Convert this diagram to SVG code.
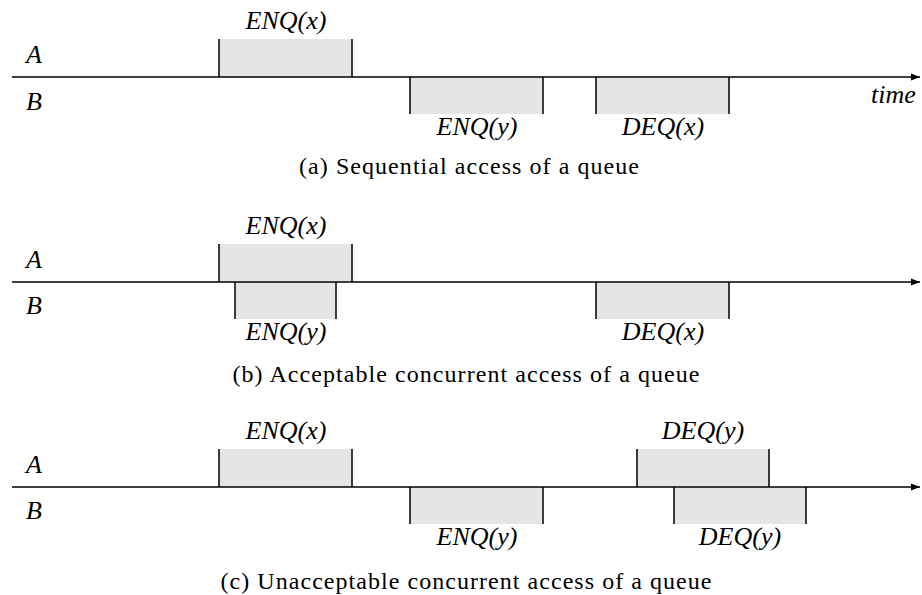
<svg xmlns="http://www.w3.org/2000/svg" width="922" height="595" viewBox="0 0 922 595">
<style>
.box{fill:#e5e5e5;stroke:none}
.side{stroke:#000;stroke-width:1.5;fill:none}
.axis{stroke:#000;stroke-width:1.5;fill:none}
text{font-family:"Times New Roman","Liberation Serif",Tinos,"Noto Serif","DejaVu Serif",FreeSerif,Times,serif;fill:#000}
.lbl{font-style:italic;font-size:26px}
.cap{font-size:24px;text-anchor:middle}
.mid{text-anchor:middle}
</style>
<defs>
<marker id="arr" markerWidth="10" markerHeight="8" refX="9" refY="4" orient="auto" markerUnits="userSpaceOnUse">
<path d="M0,0.5 L9,4 L0,7.5 Z" fill="#000"/>
</marker>
</defs>
<rect width="922" height="595" fill="#fff"/>
<!-- Panel (a) -->
<g id="a-enqx">
<rect class="box" x="219" y="39" width="133" height="38"/>
<path class="side" d="M219,39V77M352,39V77"/>
<text class="lbl mid" x="286" y="29">ENQ(x)</text>
</g>
<g id="a-enqy">
<rect class="box" x="410" y="77" width="133" height="37"/>
<path class="side" d="M410,77V114M543,77V114"/>
<text class="lbl mid" x="477" y="135">ENQ(y)</text>
</g>
<g id="a-deqx">
<rect class="box" x="596" y="77" width="133" height="37"/>
<path class="side" d="M596,77V114M729,77V114"/>
<text class="lbl mid" x="663" y="135">DEQ(x)</text>
</g>
<g id="a-labels">
<text class="lbl" x="26" y="63">A</text>
<text class="lbl" x="26" y="110">B</text>
<text class="lbl" x="871" y="103">time</text>
<text class="cap" x="469" y="174" textLength="340" lengthAdjust="spacing">(a) Sequential access of a queue</text>
</g>

<!-- Panel (b) -->
<g id="b-enqx">
<rect class="box" x="219" y="244" width="133" height="38"/>
<path class="side" d="M219,244V282M352,244V282"/>
<text class="lbl mid" x="286" y="234">ENQ(x)</text>
</g>
<g id="b-enqy">
<rect class="box" x="235" y="282" width="101" height="37"/>
<path class="side" d="M235,282V319M336,282V319"/>
<text class="lbl mid" x="286" y="340">ENQ(y)</text>
</g>
<g id="b-deqx">
<rect class="box" x="596" y="282" width="133" height="37"/>
<path class="side" d="M596,282V319M729,282V319"/>
<text class="lbl mid" x="663" y="340">DEQ(x)</text>
</g>
<g id="b-labels">
<text class="lbl" x="26" y="268">A</text>
<text class="lbl" x="26" y="314">B</text>
<text class="cap" x="466" y="382" textLength="467" lengthAdjust="spacing">(b) Acceptable concurrent access of a queue</text>
</g>

<!-- Panel (c) -->
<g id="c-enqx">
<rect class="box" x="219" y="449" width="133" height="38"/>
<path class="side" d="M219,449V487M352,449V487"/>
<text class="lbl mid" x="286" y="439">ENQ(x)</text>
</g>
<g id="c-enqy">
<rect class="box" x="410" y="487" width="133" height="37"/>
<path class="side" d="M410,487V524M543,487V524"/>
<text class="lbl mid" x="477" y="545">ENQ(y)</text>
</g>
<g id="c-deqy-a">
<rect class="box" x="637" y="449" width="132" height="38"/>
<path class="side" d="M637,449V487M769,449V487"/>
<text class="lbl mid" x="703" y="439">DEQ(y)</text>
</g>
<g id="c-deqy-b">
<rect class="box" x="674" y="487" width="132" height="37"/>
<path class="side" d="M674,487V524M806,487V524"/>
<text class="lbl mid" x="740" y="545">DEQ(y)</text>
</g>
<g id="c-labels">
<text class="lbl" x="26" y="473">A</text>
<text class="lbl" x="26" y="519">B</text>
<text class="cap" x="466" y="589" textLength="491" lengthAdjust="spacing">(c) Unacceptable concurrent access of a queue</text>
</g>
<!-- Connectors: time axes -->
<g id="connectors">
<line class="axis" x1="12" y1="77" x2="920" y2="77" marker-end="url(#arr)"/>
<line class="axis" x1="12" y1="282" x2="920" y2="282" marker-end="url(#arr)"/>
<line class="axis" x1="12" y1="487" x2="920" y2="487" marker-end="url(#arr)"/>
</g>
</svg>
